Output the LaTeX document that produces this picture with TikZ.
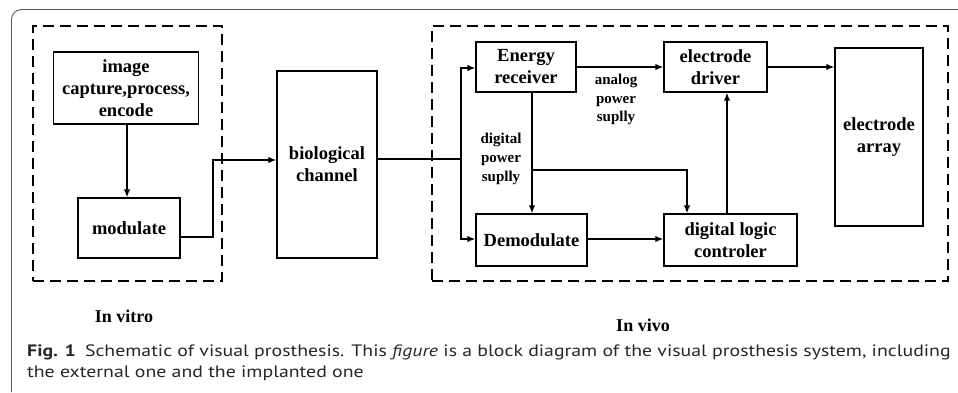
\documentclass[tikz,border=0pt]{standalone}
\usepackage{fontspec}
\setmainfont{Liberation Serif}
\newfontfamily\capfont[FakeStretch=1.2]{PT Sans}
\usetikzlibrary{arrows.meta}
\begin{document}
\begin{tikzpicture}[x=1pt,y=-1pt,
  blk/.style={draw, line width=1.4pt, inner sep=0pt, align=center, font=\fontsize{18.5}{22}\selectfont\bfseries},
  lbl/.style={align=center, font=\fontsize{15}{18.8}\selectfont\bfseries, inner sep=0pt},
  conn/.style={line width=1.4pt},
  arr/.style={conn, -{Latex[length=8pt,width=6.5pt]}},
  dbox/.style={draw, line width=1.5pt, dash pattern=on 11pt off 6pt, inner sep=0pt},
  captxt/.style={anchor=base west, inner sep=0pt, text=black!85, font=\capfont\fontsize{16.5}{20}\selectfont}]
\useasboundingbox (0,0) rectangle (958,392);
% outer frame
\draw[black!65, line width=0.9pt, rounded corners=10pt] (11.5,392) -- (11.5,9.5) -- (958,9.5);
% dashed regions
\node[dbox, minimum width=189pt, minimum height=255pt] (vitro) at (127.5,153.5) {};
\node[dbox, minimum width=516pt, minimum height=255pt] (vivo) at (690,153.5) {};
% blocks
\node[blk, minimum width=145pt, minimum height=72pt] (img) at (126,88) {image\\capture,process,\\encode};
\node[blk, minimum width=102pt, minimum height=60pt] (mod) at (129,228) {modulate};
\node[blk, minimum width=100pt, minimum height=187pt] (bio) at (327,164.5) {biological\\channel};
\node[blk, minimum width=100pt, minimum height=50pt] (er) at (526,67) {Energy\\receiver};
\node[blk, minimum width=111pt, minimum height=52pt] (dem) at (531.5,240) {Demodulate};
\node[blk, minimum width=103pt, minimum height=50pt] (ed) at (715.5,67) {electrode\\driver};
\node[blk, minimum width=133pt, minimum height=52pt] (dlc) at (730.5,240) {digital logic\\controler};
\node[blk, minimum width=88pt, minimum height=178pt] (ea) at (879,137) {electrode\\array};
% labels
\node[lbl] (dps) at (501,159) {digital\\power\\suplly};
\node[lbl] (aps) at (616,99.5) {analog\\power\\suplly};
\node[font=\fontsize{18}{22}\selectfont\bfseries, inner sep=0pt] (lvitro) at (124,316) {In vitro};
\node[font=\fontsize{18}{22}\selectfont\bfseries, inner sep=0pt] (lvivo) at (643,325) {In vivo};
% connectors
\draw[arr] ([xshift=1pt]img.south) -- ([xshift=1pt]img.south |- mod.north);
\coordinate (m1) at (213,237);
\coordinate (m2) at (213,160);
\draw[arr] ([yshift=-9pt]mod.east) -- (m1) -- (m2) -- (m2 -| bio.west);
\coordinate (jb) at (461,159);
\draw[conn] (jb -| bio.east) -- (jb);
\draw[arr] (jb) |- ([yshift=-1pt]er.west);
\draw[arr] (jb) |- ([yshift=1pt]dem.west);
\draw[arr] ([xshift=6pt]er.south) -- ([xshift=6pt]er.south |- dem.north);
\coordinate (jd) at (532,170);
\draw[arr] (jd) -| ([xshift=-43.5pt]dlc.north);
\draw[arr] (er.east) -- (ed.west);
\draw[arr] (ed.east) -- (ed.east -| ea.west);
\draw[arr] ([xshift=-3.5pt]dlc.north) -- ([xshift=-3.5pt]dlc.north |- ed.south);
\draw[arr] ([yshift=1pt]dem.east) -- ([yshift=1pt]dem.east -| dlc.west);
% caption
\node[captxt] (cap1) at (27,356) {\textbf{Fig. 1}\hspace{0.55em}Schematic of visual prosthesis. This \textit{figure} is a block diagram of the visual prosthesis system, including};
\node[captxt] (cap2) at (27,377) {the external one and the implanted one};
\end{tikzpicture}
\end{document}
